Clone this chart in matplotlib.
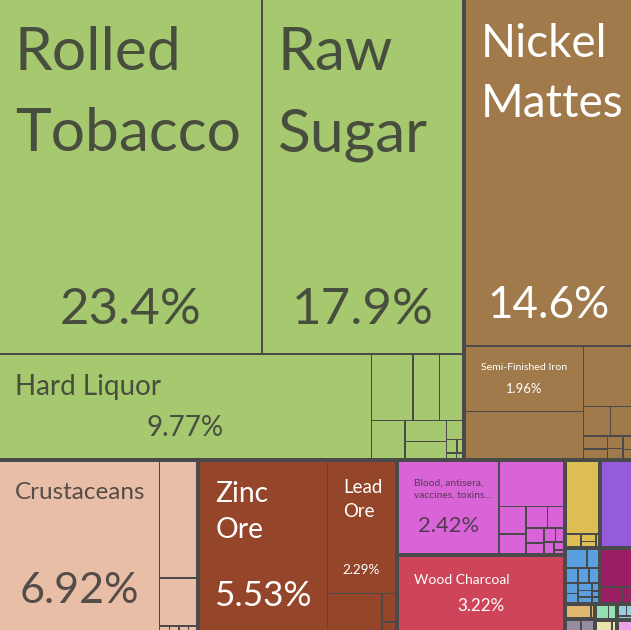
import matplotlib
matplotlib.use("Agg")
import matplotlib.pyplot as plt
from matplotlib.patches import Rectangle

W, H = 631, 630
DPI = 100
PHI = (1 + 5 ** 0.5) / 2

# sections (top level) of the export treemap
group_names = ['Foodstuffs', 'Metals', 'Animal Products', 'Mineral Products',
               'Chemical Products', 'Wood Products', 'Vegetable Products',
               'Machines', 'Instruments', 'Textiles', 'Stone And Glass',
               'Transportation', 'Plastics', 'Paper Goods', 'Animal Hides',
               'Miscellaneous']
group_colors = ['#A6C86F', '#A07A4B', '#E8BEA6', '#95452A',
                '#D964D8', '#CE4459', '#DDBE52',
                '#955BDC', '#5AA0E1', '#9B1E64', '#E0B96E',
                '#968CA0', '#96E1B4', '#EBE1AA', '#96CDE1',
                '#F0A0E6']

# product shares (%) inside every section
group_values = [
    [23.4, 17.9, 9.77, 0.69, 0.44, 0.39, 0.32, 0.22, 0.18, 0.08, 0.035, 0.02, 0.015, 0.01],
    [14.6, 1.96, 1.42, 0.74, 0.2, 0.16, 0.08, 0.06, 0.05, 0.04, 0.03, 0.02],
    [6.92, 1.12, 0.46, 0.012, 0.011, 0.011, 0.01],
    [5.53, 2.29, 0.52, 0.1, 0.03],
    [2.42, 0.76, 0.19, 0.14, 0.12, 0.09, 0.07, 0.05, 0.04, 0.03, 0.03, 0.02, 0.01],
    [3.22],
    [0.65, 0.05, 0.03, 0.02, 0.01],
    [0.72],
    [0.11, 0.06, 0.05, 0.045, 0.04, 0.035, 0.03, 0.03, 0.025, 0.02, 0.015, 0.01, 0.01],
    [0.33, 0.09, 0.025, 0.015],
    [0.105, 0.015],
    [0.05, 0.045],
    [0.055, 0.035],
    [0.05, 0.015],
    [0.03, 0.02, 0.015],
    [0.045],
]
# names of the labeled products (first ones of each section)
group_labels = [
    ['Rolled\nTobacco', 'Raw\nSugar', 'Hard Liquor'],
    ['Nickel\nMattes', 'Semi-Finished Iron'],
    ['Crustaceans'],
    ['Zinc\nOre', 'Lead\nOre'],
    ['Blood, antisera,\nvaccines, toxins...'],
    ['Wood Charcoal'],
]

# label font sizes in px: (name, share)
label_sizes = {
    'Rolled\nTobacco': (60.5, 51), 'Raw\nSugar': (60.5, 51), 'Hard Liquor': (27.8, 27.8),
    'Nickel\nMattes': (45.9, 44), 'Semi-Finished Iron': (10.5, 13),
    'Crustaceans': (24.3, 43), 'Zinc\nOre': (28.2, 35), 'Lead\nOre': (18.7, 13.5),
    'Blood, antisera,\nvaccines, toxins...': (10.2, 22), 'Wood Charcoal': (13.9, 17),
}

GROUP_PAD = 2.0   # half of the gap between sections
ITEM_PAD = 0.8    # half of the gap between products


def squarify(vals, x0, y0, x1, y1):
    # d3 style squarified tiling, values sorted descending
    rects = []
    value = float(sum(vals))
    i0, n = 0, len(vals)
    while i0 < n:
        dx, dy = x1 - x0, y1 - y0
        s = vals[i0]
        mn = mx = s
        i1 = i0 + 1
        alpha = max(dy / dx, dx / dy) / (value * PHI)
        beta = s * s * alpha
        best = max(mx / beta, beta / mn)
        while i1 < n:
            v = vals[i1]
            s2, mn2, mx2 = s + v, min(mn, v), max(mx, v)
            beta = s2 * s2 * alpha
            r = max(mx2 / beta, beta / mn2)
            if r > best:
                break
            s, mn, mx, best = s2, mn2, mx2, r
            i1 += 1
        row = vals[i0:i1]
        if dx < dy * 1.01:
            yb = y0 + dy * s / value if i1 < n else y1
            xx = x0
            for v in row:
                w = dx * v / s
                rects.append((xx, y0, xx + w, yb))
                xx += w
            y0 = yb
        else:
            xb = x0 + dx * s / value if i1 < n else x1
            yy = y0
            for v in row:
                h = dy * v / s
                rects.append((x0, yy, xb, yy + h))
                yy += h
            x0 = xb
        value -= s
        i0 = i1
    return rects


def shrink(r, p):
    return (r[0] + p, r[1] + p, r[2] - p, r[3] - p)


def text_color(hexcol):
    r, g, b = [int(hexcol[i:i + 2], 16) / 255 for i in (1, 3, 5)]
    if 0.299 * r + 0.587 * g + 0.114 * b > 0.55:
        return '#333333', 0.82
    return '#ffffff', 1.0


plt.rcParams['font.family'] = ['Lato', 'DejaVu Sans']

fig = plt.figure(figsize=(W / DPI, H / DPI), dpi=DPI)
fig.patch.set_facecolor('#4A4A4A')
ax = fig.add_axes([0, 0, 1, 1])
ax.set_xlim(0, W)
ax.set_ylim(H, 0)
ax.axis('off')

totals = [sum(v) for v in group_values]
order = sorted(range(len(totals)), key=lambda i: -totals[i])
g_rects = squarify([totals[i] for i in order],
                   -GROUP_PAD, -GROUP_PAD, W + GROUP_PAD, H + GROUP_PAD)

for gi, grect in zip(order, g_rects):
    gx0, gy0, gx1, gy1 = shrink(grect, GROUP_PAD)
    vals = group_values[gi]
    labels = group_labels[gi] if gi < len(group_labels) else []
    idx = sorted(range(len(vals)), key=lambda i: -vals[i])
    i_rects = squarify([vals[i] for i in idx],
                       gx0 - ITEM_PAD, gy0 - ITEM_PAD, gx1 + ITEM_PAD, gy1 + ITEM_PAD)
    col = group_colors[gi]
    tcol, talpha = text_color(col)
    for ii, irect in zip(idx, i_rects):
        x0, y0, x1, y1 = shrink(irect, ITEM_PAD)
        ax.add_patch(Rectangle((x0, y0), x1 - x0, y1 - y0, facecolor=col,
                               edgecolor='none'))
        if ii >= len(labels):
            continue
        name = labels[ii]
        t_px, p_px = label_sizes[name]
        # product name top-left, one text per line
        base = y0 + 14 + 0.93 * t_px
        pitch = 1.2 * t_px + 0.0023 * t_px ** 2
        for k, line in enumerate(name.split('\n')):
            ax.text(x0 + 15, base + k * pitch, line,
                    fontsize=t_px * 72 / DPI,
                    color=tcol, alpha=talpha, ha='left', va='baseline')
        # share centred near the bottom
        gap = 14 + 0.3 * p_px
        ax.text((x0 + x1) / 2, y1 - gap, '{:.3g}%'.format(vals[ii]),
                fontsize=p_px * 72 / DPI, color=tcol, alpha=talpha,
                ha='center', va='baseline')

fig.savefig('out.png', dpi=DPI, facecolor=fig.get_facecolor())
